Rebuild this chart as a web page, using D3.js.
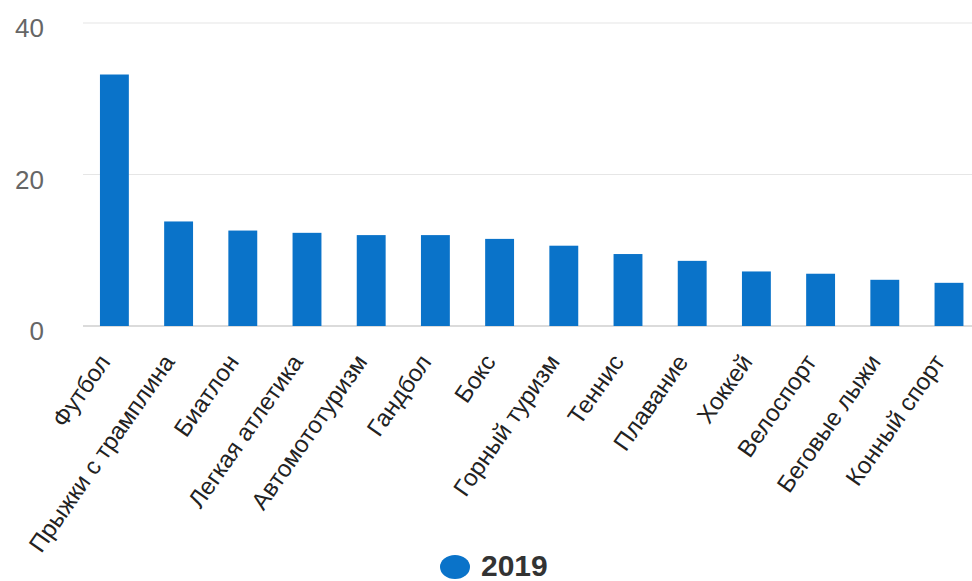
<!DOCTYPE html>
<html>
<head>
<meta charset="utf-8">
<script src="https://cdn.jsdelivr.net/npm/d3@7"></script>
<style>
  body { margin: 0; background: #fff; }
  svg { display: block; font-family: "Liberation Sans", Arial, sans-serif; }
</style>
</head>
<body>
<div id="chart"></div>
<script>
// Виды спорта и значения за 2019 год
const categories = [
  "Футбол", "Прыжки с трамплина", "Биатлон", "Легкая атлетика",
  "Автомототуризм", "Гандбол", "Бокс", "Горный туризм", "Теннис",
  "Плавание", "Хоккей", "Велоспорт", "Беговые лыжи", "Конный спорт"
];
const values2019 = [33.2, 13.8, 12.6, 12.3, 12.0, 12.0, 11.5, 10.6, 9.5, 8.6, 7.2, 6.9, 6.1, 5.7];
const yTicks = [0, 20, 40];
const seriesName = "2019";

const W = 972, H = 581;
const barColor = "#0a73c9";

const svg = d3.select("#chart").append("svg")
  .attr("width", W)
  .attr("height", H);

const x = d3.scaleBand()
  .domain(categories)
  .range([82.3, 981.1])
  .paddingInner(0.55)
  .paddingOuter(0.275);

const y = d3.scaleLinear()
  .domain([0, 40])
  .range([326, 23]);

// grid lines
svg.append("g")
  .selectAll("line")
  .data(yTicks)
  .enter()
  .append("line")
  .attr("x1", 83)
  .attr("x2", W)
  .attr("y1", d => y(d))
  .attr("y2", d => y(d))
  .attr("stroke", d => d === 0 ? "#cfcfcf" : "#e6e6e6")
  .attr("stroke-width", d => d === 0 ? 1.5 : 1.2);

// y axis labels
const yAxis = svg.append("g")
  .attr("transform", "translate(44,0)")
  .call(d3.axisLeft(y).tickValues(yTicks).tickSize(0).tickPadding(0));
yAxis.select(".domain").remove();
yAxis.selectAll("text")
  .attr("dy", "0.35em")
  .attr("y", 4.5)
  .style("font-size", "26px")
  .style("font-family", "'Liberation Sans', Arial, sans-serif")
  .attr("fill", "#666");

// bars
svg.append("g")
  .selectAll("rect")
  .data(categories.map((c, i) => ({ cat: c, value: values2019[i] })))
  .enter()
  .append("rect")
  .attr("x", d => x(d.cat))
  .attr("y", d => y(d.value))
  .attr("width", x.bandwidth())
  .attr("height", d => y(0) - y(d.value))
  .attr("fill", barColor);

// x labels
svg.append("g")
  .selectAll("text")
  .data(categories)
  .enter()
  .append("text")
  .attr("transform", d => `translate(${x(d) + x.bandwidth() / 2 - 3}, 362) rotate(-55)`)
  .attr("text-anchor", "end")
  .style("font-size", "24px")
  .attr("fill", "#222")
  .text(d => d);

// legend
const legend = svg.append("g");
legend.append("ellipse")
  .attr("cx", 455)
  .attr("cy", 567)
  .attr("rx", 15)
  .attr("ry", 12)
  .attr("fill", barColor);
legend.append("text")
  .attr("x", 481)
  .attr("y", 576)
  .style("font-size", "30px")
  .style("font-weight", "bold")
  .attr("fill", "#333")
  .text(seriesName);
</script>
</body>
</html>
